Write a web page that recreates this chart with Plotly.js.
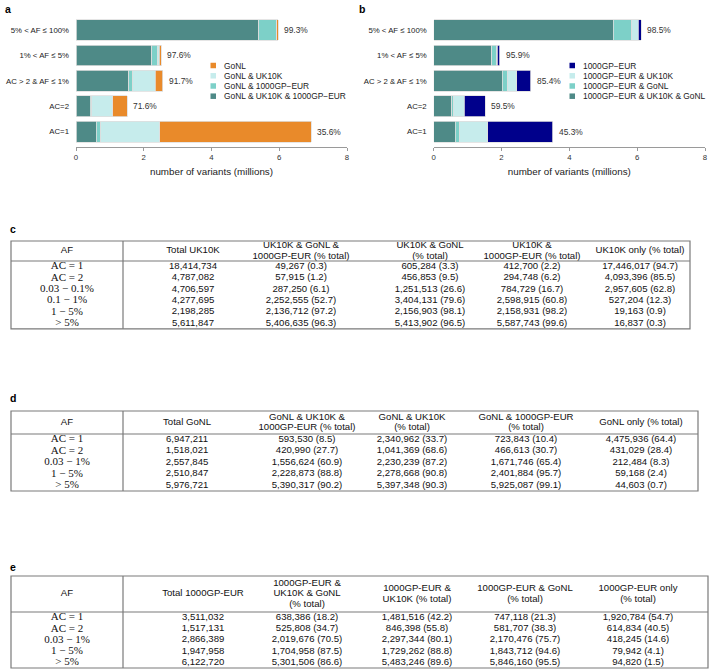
<!DOCTYPE html>
<html><head><meta charset="utf-8">
<script src="https://cdn.plot.ly/plotly-3.0.1.min.js"></script>
<style>html,body{margin:0;padding:0;background:#fff}#chart{width:710px;height:669px}</style>
</head><body><div id="chart"></div>
<script>
// ================= DATA =================
const categories = ['AC=1', 'AC=2', 'AC > 2 & AF ≤ 1%', '1% < AF ≤ 5%', '5% < AF ≤ 100%'];

// Panel a: GoNL variants split into exclusive sharing classes
const gonlSharedAll = [593530, 420990, 1556624, 2228873, 5390317];
const gonlShared1000GP = [130313, 45623, 115122, 173011, 534770];
const gonlSharedUK10K = [1747432, 620379, 673615, 49795, 7031];
const gonlOnly = [4475936, 431029, 212484, 59168, 44603];
const gonlPctLabels = ['35.6%', '71.6%', '91.7%', '97.6%', '99.3%'];
const gonlSeriesNames = ['GoNL & UK10K & 1000GP−EUR', 'GoNL & 1000GP−EUR', 'GoNL & UK10K', 'GoNL'];

// Panel b: 1000GP-EUR variants split into exclusive sharing classes
const eurSharedAll = [638386, 525808, 2019676, 1704958, 5301506];
const eurSharedGoNL = [108732, 55899, 150800, 138754, 544654];
const eurSharedUK10K = [843130, 320590, 277668, 24304, 181740];
const eurOnly = [1920784, 614834, 418245, 79942, 94820];
const eurPctLabels = ['45.3%', '59.5%', '85.4%', '95.9%', '98.5%'];
const eurSeriesNames = ['1000GP−EUR & UK10K & GoNL', '1000GP−EUR & GoNL', '1000GP−EUR & UK10K', '1000GP−EUR'];

// Table c (UK10K)
const tableCHeaders = ['AF', 'Total UK10K', 'UK10K & GoNL &<br>1000GP-EUR (% total)', 'UK10K & GoNL<br>(% total)', 'UK10K &<br>1000GP-EUR (% total)', 'UK10K only (% total)'];
const tableCAF = ['AC = 1', 'AC = 2', '0.03 − 0.1%', '0.1 − 1%', '1 − 5%', '> 5%'];
const tableCTotal = ['18,414,734', '4,787,082', '4,706,597', '4,277,695', '2,198,285', '5,611,847'];
const tableCAll = ['49,267 (0.3)', '57,915 (1.2)', '287,250 (6.1)', '2,252,555 (52.7)', '2,136,712 (97.2)', '5,406,635 (96.3)'];
const tableCGoNL = ['605,284 (3.3)', '456,853 (9.5)', '1,251,513 (26.6)', '3,404,131 (79.6)', '2,156,903 (98.1)', '5,413,902 (96.5)'];
const tableC1000GP = ['412,700 (2.2)', '294,748 (6.2)', '784,729 (16.7)', '2,598,915 (60.8)', '2,158,931 (98.2)', '5,587,743 (99.6)'];
const tableCOnly = ['17,446,017 (94.7)', '4,093,396 (85.5)', '2,957,605 (62.8)', '527,204 (12.3)', '19,163 (0.9)', '16,837 (0.3)'];

// Table d (GoNL)
const tableDHeaders = ['AF', 'Total GoNL', 'GoNL & UK10K &<br>1000GP-EUR (% total)', 'GoNL & UK10K<br>(% total)', 'GoNL & 1000GP-EUR<br>(% total)', 'GoNL only (% total)'];
const tableDAF = ['AC = 1', 'AC = 2', '0.03 − 1%', '1 − 5%', '> 5%'];
const tableDTotal = ['6,947,211', '1,518,021', '2,557,845', '2,510,847', '5,976,721'];
const tableDAll = ['593,530 (8.5)', '420,990 (27.7)', '1,556,624 (60.9)', '2,228,873 (88.8)', '5,390,317 (90.2)'];
const tableDUK10K = ['2,340,962 (33.7)', '1,041,369 (68.6)', '2,230,239 (87.2)', '2,278,668 (90.8)', '5,397,348 (90.3)'];
const tableD1000GP = ['723,843 (10.4)', '466,613 (30.7)', '1,671,746 (65.4)', '2,401,884 (95.7)', '5,925,087 (99.1)'];
const tableDOnly = ['4,475,936 (64.4)', '431,029 (28.4)', '212,484 (8.3)', '59,168 (2.4)', '44,603 (0.7)'];

// Table e (1000GP-EUR)
const tableEHeaders = ['AF', 'Total 1000GP-EUR', '1000GP-EUR &<br>UK10K & GoNL<br>(% total)', '1000GP-EUR &<br>UK10K (% total)', '1000GP-EUR & GoNL<br>(% total)', '1000GP-EUR only<br>(% total)'];
const tableEAF = ['AC = 1', 'AC = 2', '0.03 − 1%', '1 − 5%', '> 5%'];
const tableETotal = ['3,511,032', '1,517,131', '2,866,389', '1,947,958', '6,122,720'];
const tableEAll = ['638,386 (18.2)', '525,808 (34.7)', '2,019,676 (70.5)', '1,704,958 (87.5)', '5,301,506 (86.6)'];
const tableEUK10K = ['1,481,516 (42.2)', '846,398 (55.8)', '2,297,344 (80.1)', '1,729,262 (88.8)', '5,483,246 (89.6)'];
const tableEGoNL = ['747,118 (21.3)', '581,707 (38.3)', '2,170,476 (75.7)', '1,843,712 (94.6)', '5,846,160 (95.5)'];
const tableEOnly = ['1,920,784 (54.7)', '614,834 (40.5)', '418,245 (14.6)', '79,942 (4.1)', '94,820 (1.5)'];

// ================= STYLE / LAYOUT =================
const W = 710, H = 669;
const px = v => v / W, py = v => 1 - v / H;
const SANS = 'Liberation Sans, Arial, Helvetica, sans-serif';
const SERIF = 'Liberation Serif, Times New Roman, serif';
const colorsA = ['#4e8a87', '#7dd0c8', '#c6ecec', '#e98a2a'];
const colorsB = ['#4e8a87', '#7dd0c8', '#c6ecec', '#00008b'];
const toMillions = arr => arr.map(v => v / 1e6);

const traces = [];
const annotations = [];
const shapes = [];

function addBarPanel(seriesList, names, colors, pctLabels, xa, ya) {
  seriesList.forEach((s, k) => {
    traces.push({
      type: 'bar', orientation: 'h', x: toMillions(s), y: categories,
      name: names[k], xaxis: xa, yaxis: ya, showlegend: false,
      marker: {color: colors[k], line: {color: '#dedede', width: 0.8}},
      hoverinfo: 'skip'
    });
  });
  categories.forEach((c, i) => {
    const total = seriesList.reduce((acc, s) => acc + s[i], 0) / 1e6;
    annotations.push({
      x: total, y: c, xref: xa, yref: ya, text: pctLabels[i], showarrow: false,
      xanchor: 'left', xshift: 4, font: {family: SANS, size: 8.4, color: '#333'}
    });
  });
}
addBarPanel([gonlSharedAll, gonlShared1000GP, gonlSharedUK10K, gonlOnly], gonlSeriesNames, colorsA, gonlPctLabels, 'x', 'y');
addBarPanel([eurSharedAll, eurSharedGoNL, eurSharedUK10K, eurOnly], eurSeriesNames, colorsB, eurPctLabels, 'x2', 'y2');

// manual compact legends
function addLegend(names, colors, swatchX, textX, rowsY) {
  const order = [3, 2, 1, 0];
  order.forEach((k, r) => {
    const yc = rowsY[r];
    shapes.push({type: 'rect', xref: 'paper', yref: 'paper', x0: px(swatchX), x1: px(swatchX + 5.5),
      y0: py(yc + 2.75), y1: py(yc - 2.75), fillcolor: colors[k], line: {width: 0}});
    annotations.push({xref: 'paper', yref: 'paper', x: px(textX), y: py(yc), text: names[k], showarrow: false,
      xanchor: 'left', yanchor: 'middle', font: {family: SANS, size: 8.4, color: '#222'}});
  });
}
const legendRows = [65.5, 75.8, 86, 96.2];
addLegend(gonlSeriesNames, colorsA, 210.5, 222, legendRows);
addLegend(eurSeriesNames, colorsB, 569.5, 581, legendRows);

// tables drawn on a full-page pixel-unit overlay axis
const HEADER_LINE_GAP = 10.6;
const tables = [
  {headers: tableCHeaders, cols: [tableCAF, tableCTotal, tableCAll, tableCGoNL, tableC1000GP, tableCOnly],
   geo: {top: 241, left: 11, right: 690, divider: 123, headerH: 20, rowH: 11.3, centers: [67, 193, 301, 430, 532, 640]}},
  {headers: tableDHeaders, cols: [tableDAF, tableDTotal, tableDAll, tableDUK10K, tableD1000GP, tableDOnly],
   geo: {top: 411, left: 11, right: 698, divider: 123, headerH: 23, rowH: 11.4, centers: [67, 187, 307, 412, 526, 641]}},
  {headers: tableEHeaders, cols: [tableEAF, tableETotal, tableEAll, tableEUK10K, tableEGoNL, tableEOnly],
   geo: {top: 576, left: 11, right: 708, divider: 123, headerH: 36, rowH: 11.2, centers: [67, 203, 307, 417, 525, 638]}}
];
tables.forEach(t => {
  const g = t.geo;
  const nRows = t.cols[0].length;
  const bottom = g.top + g.headerH + nRows * g.rowH;
  const hx = [], hy = [], ht = [];
  t.headers.forEach((h, j) => {
    const lines = h.split('<br>');
    lines.forEach((line, m) => {
      hx.push(g.centers[j]);
      hy.push(g.top + g.headerH / 2 + (m - (lines.length - 1) / 2) * HEADER_LINE_GAP);
      ht.push(line);
    });
  });
  traces.push({type: 'scatter', mode: 'text', xaxis: 'x3', yaxis: 'y3', hoverinfo: 'skip', showlegend: false,
    x: hx, y: hy, text: ht, textposition: 'middle center', cliponaxis: false,
    textfont: {family: SANS, size: 9.6, color: '#111'}});
  t.cols.forEach((col, j) => {
    traces.push({type: 'scatter', mode: 'text', xaxis: 'x3', yaxis: 'y3', hoverinfo: 'skip', showlegend: false,
      x: col.map(() => g.centers[j]), y: col.map((_, i) => g.top + g.headerH + (i + 0.5) * g.rowH),
      text: col, textposition: 'middle center', cliponaxis: false,
      textfont: j === 0 ? {family: SERIF, size: 11, color: '#111'} : {family: SANS, size: 9.6, color: '#111'}});
  });
  const ln = {color: '#7a7a7a', width: 1.2};
  shapes.push({type: 'rect', xref: 'x3', yref: 'y3', x0: g.left, x1: g.right, y0: g.top, y1: bottom, line: ln});
  shapes.push({type: 'line', xref: 'x3', yref: 'y3', x0: g.divider, x1: g.divider, y0: g.top, y1: bottom, line: ln});
  shapes.push({type: 'line', xref: 'x3', yref: 'y3', x0: g.left, x1: g.right, y0: g.top + g.headerH, y1: g.top + g.headerH, line: ln});
});

// panel letters
const panelLetters = ['a', 'b', 'c', 'd', 'e'];
const letterPos = [[3, 9], [357, 9], [8, 229], [8, 398], [8, 567]];
panelLetters.forEach((L, i) => annotations.push({xref: 'paper', yref: 'paper', x: px(letterPos[i][0]), y: py(letterPos[i][1]),
  text: '<b>' + L + '</b>', showarrow: false, xanchor: 'left', yanchor: 'middle', font: {family: SANS, size: 10.5, color: '#000'}}));

const barX = (dom, anchor) => ({
  domain: dom, anchor: anchor, range: [0, 8], tickvals: [0, 2, 4, 6, 8], showgrid: false, zeroline: false,
  showline: true, linecolor: '#9a9a9a', linewidth: 1, ticks: 'outside', ticklen: 3, tickcolor: '#9a9a9a',
  tickfont: {family: SANS, size: 7.8, color: '#333'},
  title: {text: 'number of variants (millions)', font: {family: SANS, size: 9.8, color: '#222'}, standoff: 6}, fixedrange: true
});
const barY = (anchor) => ({
  domain: [py(146.9), py(14.8)], anchor: anchor, type: 'category', categoryorder: 'array', categoryarray: categories,
  range: [-0.6, 4.6], showgrid: false, zeroline: false, showline: false, ticks: '', ticklabelstandoff: 6,
  tickfont: {family: SANS, size: 7.8, color: '#222'}, fixedrange: true
});

const layout = {
  width: W, height: H, margin: {l: 0, r: 0, t: 0, b: 0},
  paper_bgcolor: '#fff', plot_bgcolor: 'rgba(0,0,0,0)', barmode: 'stack', bargap: 0.18, showlegend: false,
  xaxis: barX([px(76), px(347)], 'y'), yaxis: barY('x'),
  xaxis2: barX([px(433.7), px(705)], 'y2'), yaxis2: barY('x2'),
  xaxis3: {domain: [0, 1], range: [0, W], visible: false, anchor: 'y3', fixedrange: true},
  yaxis3: {domain: [0, 1], range: [H, 0], visible: false, anchor: 'x3', fixedrange: true},
  annotations: annotations, shapes: shapes, font: {family: SANS}
};
Plotly.newPlot('chart', traces, layout, {staticPlot: true, displayModeBar: false});
</script></body></html>
